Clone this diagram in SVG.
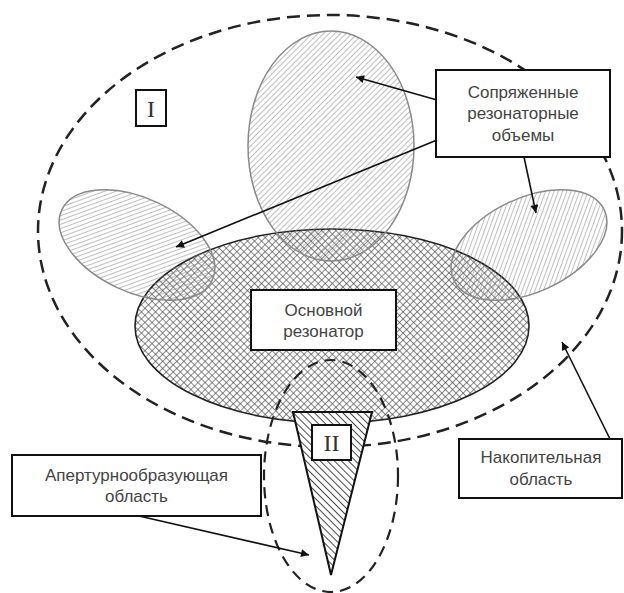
<svg xmlns="http://www.w3.org/2000/svg" width="624" height="593" viewBox="0 0 624 593">
<defs>
<pattern id="hatchLight" width="4" height="4" patternUnits="userSpaceOnUse" patternTransform="rotate(45)">
<line x1="0" y1="0" x2="0" y2="4" stroke="#8a8a8a" stroke-width="1.1"/>
</pattern>
<pattern id="cross" width="5" height="5" patternUnits="userSpaceOnUse" patternTransform="rotate(45)">
<line x1="0" y1="0" x2="0" y2="5" stroke="#3a3a3a" stroke-width="1.2"/>
<line x1="0" y1="0" x2="5" y2="0" stroke="#3a3a3a" stroke-width="1.2"/>
</pattern>
<pattern id="hatchDark" width="5" height="5" patternUnits="userSpaceOnUse" patternTransform="rotate(-45)">
<line x1="0" y1="0" x2="0" y2="5" stroke="#2a2a2a" stroke-width="1.7"/>
</pattern>
<marker id="arr" viewBox="0 0 10 10" refX="10" refY="5" markerWidth="10" markerHeight="8" markerUnits="userSpaceOnUse" orient="auto">
<path d="M0,0 L10,5 L0,10 z" fill="#111"/>
</marker>
</defs>
<style>
.dash{fill:none;stroke:#222;stroke-width:2.5;stroke-dasharray:13 7}
.dash2{fill:none;stroke:#222;stroke-width:2.2;stroke-dasharray:11 7}
.soft{fill:url(#hatchLight);stroke:#8a8a8a;stroke-width:1.5}
.box{fill:#fff;stroke:#111;stroke-width:2}
.lbl{font-family:"Liberation Sans",Arial,sans-serif;font-size:17px;fill:#444;text-anchor:middle}
.rom{font-family:"Liberation Serif","Times New Roman",serif;font-size:24px;fill:#333;text-anchor:middle}
.conn{fill:none;stroke:#111;stroke-width:1.6;marker-end:url(#arr)}
</style>
<rect width="624" height="593" fill="#fff"/>

<g id="storage-region">
<ellipse cx="330" cy="231" rx="292" ry="216" class="dash"/>
</g>

<g id="main-resonator-shape">
<ellipse cx="332" cy="326" rx="197" ry="97" fill="#fff"/>
<ellipse cx="332" cy="326" rx="197" ry="97" fill="url(#cross)" stroke="#222" stroke-width="1.6"/>
</g>

<g id="coupled-top">
<ellipse cx="331" cy="146" rx="83" ry="115" class="soft"/>
</g>
<g id="coupled-left">
<ellipse cx="137" cy="245" rx="83" ry="47" transform="rotate(25 137 245)" class="soft"/>
</g>
<g id="coupled-right">
<ellipse cx="529" cy="245" rx="83" ry="47" transform="rotate(-25 529 245)" class="soft"/>
</g>

<g id="aperture-region">
<ellipse cx="331" cy="476" rx="67" ry="116" class="dash2"/>
</g>

<g id="aperture-cone">
<path d="M293,412 L372,412 L331,575 Z" fill="#fff"/>
<path d="M293,412 L372,412 L331,575 Z" fill="url(#hatchDark)" stroke="#111" stroke-width="2"/>
</g>

<g id="label-I">
<rect x="136" y="90" width="30" height="36" class="box"/>
<text x="151" y="117" class="rom">I</text>
</g>
<g id="label-II">
<rect x="312" y="425" width="39" height="35" class="box"/>
<text x="331.5" y="451" class="rom">II</text>
</g>

<g id="box-coupled">
<rect x="436" y="70" width="174" height="87" class="box"/>
<text x="523" y="98" class="lbl">Сопряженные</text>
<text x="523" y="119" class="lbl">резонаторные</text>
<text x="523" y="141" class="lbl">объемы</text>
</g>

<g id="box-main">
<rect x="251" y="290" width="145" height="60" class="box"/>
<text x="323.5" y="316" class="lbl">Основной</text>
<text x="323.5" y="337" class="lbl">резонатор</text>
</g>

<g id="box-aperture">
<rect x="12" y="455" width="249" height="61" class="box"/>
<text x="136.5" y="481" class="lbl">Апертурнообразующая</text>
<text x="136.5" y="502" class="lbl">область</text>
</g>

<g id="box-storage">
<rect x="459" y="439" width="163" height="59" class="box"/>
<text x="541" y="463" class="lbl">Накопительная</text>
<text x="541" y="485" class="lbl">область</text>
</g>

<g id="connectors">
<line x1="437" y1="100" x2="356" y2="77" class="conn"/>
<line x1="437" y1="140" x2="176" y2="247" class="conn"/>
<line x1="524" y1="157" x2="536" y2="213" class="conn"/>
<line x1="139" y1="516" x2="309" y2="555" class="conn"/>
<line x1="610" y1="439" x2="562" y2="342" class="conn"/>
</g>
</svg>
